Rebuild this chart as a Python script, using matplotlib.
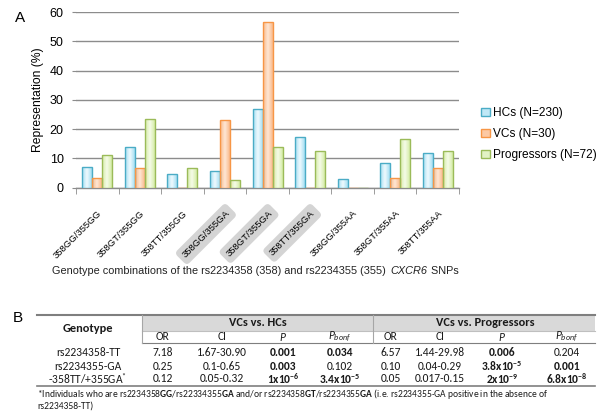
import matplotlib
matplotlib.use("Agg")
import matplotlib.pyplot as plt
import numpy as np
from matplotlib import font_manager
from matplotlib.patches import Patch, Rectangle
from matplotlib.lines import Line2D
from matplotlib.colors import LinearSegmentedColormap

# ---- data panel A ----
genotypes_x = ["358GG/355GG", "358GT/355GG", "358TT/355GG", "358GG/355GA", "358GT/355GA",
               "358TT/355GA", "358GG/355AA", "358GT/355AA", "358TT/355AA"]
highlight = [3, 4, 5]
hcs = [7.0, 13.9, 4.8, 5.7, 27.0, 17.4, 3.0, 8.3, 12.0]
vcs = [3.3, 6.7, 0.0, 23.3, 56.7, 0.0, 0.0, 3.3, 6.7]
progs = [11.1, 23.6, 6.9, 2.8, 13.9, 12.5, 0.0, 16.7, 12.5]
series_names = ["HCs (N=230)", "VCs (N=30)", "Progressors (N=72)"]

# ---- data panel B ----
tab_genotype = ["rs2234358-TT", "rs2234355-GA", r"-358TT/+355GA$^{*}$"]
or_hc = ["7.18", "0.25", "0.12"]
ci_hc = ["1.67-30.90", "0.1-0.65", "0.05-0.32"]
p_hc = ["0.001", "0.003", "1x10^{-6}"]
p_hc_bold = [True, True, True]
pb_hc = ["0.034", "0.102", "3.4x10^{-5}"]
pb_hc_bold = [True, False, True]
or_pr = ["6.57", "0.10", "0.05"]
ci_pr = ["1.44-29.98", "0.04-0.29", "0.017-0.15"]
p_pr = ["0.006", "3.8x10^{-5}", "2x10^{-9}"]
p_pr_bold = [True, True, True]
pb_pr = ["0.204", "0.001", "6.8x10^{-8}"]
pb_pr_bold = [False, True, True]

# Calibri-like font for the table if there is one
avail = {f.name for f in font_manager.fontManager.ttflist}
tfont = next(n for n in ["Carlito", "Liberation Sans Narrow", "Lato", "DejaVu Sans"] if n in avail)

plt.rcParams["font.family"] = ["Liberation Sans", "DejaVu Sans"]
plt.rcParams["mathtext.fontset"] = "custom"
plt.rcParams["mathtext.rm"] = tfont
plt.rcParams["mathtext.bf"] = tfont + ":bold"
plt.rcParams["mathtext.it"] = tfont + ":italic"

fig = plt.figure(figsize=(6.04, 4.2), dpi=100)
renderer = fig.canvas.get_renderer()

# ---------------- panel A ----------------
ax = fig.add_axes([0.126, 0.553, 0.634, 0.418])
x = np.arange(len(genotypes_x))
w = 0.235
fills = ["#c0e8f6", "#fcc9a4", "#e2f2c4"]
sides = ["#a4def2", "#f9b98b", "#d4eca6"]
centres = ["#effafe", "#fee6d4", "#f5fbe8"]
edges = ["#4bacc6", "#f79646", "#9bbb59"]
grad = np.linspace(-1, 1, 64)
grad = np.abs(grad)[None, :]
for i, vals in enumerate([hcs, vcs, progs]):
    bars = ax.bar(x + (i - 1) * w, vals, w, color="none", edgecolor=edges[i], linewidth=1, zorder=4)
    cmap = LinearSegmentedColormap.from_list("g%d" % i, [centres[i], sides[i]])
    for rect in bars:
        if rect.get_height() <= 0:
            continue
        x0 = rect.get_x()
        im = ax.imshow(grad, extent=[x0, x0 + rect.get_width(), 0, rect.get_height()],
                       aspect="auto", cmap=cmap, vmin=0, vmax=1, zorder=3, interpolation="bilinear")
        im.set_clip_path(rect)

ax.set_xlim(-0.5, len(genotypes_x) - 0.5)
ax.set_ylim(0, 60)
ax.set_yticks(range(0, 61, 10))
ax.tick_params(axis="y", labelsize=9, length=3, color="#8c8c8c", pad=6)
ax.yaxis.grid(True, color="#8c8c8c", lw=1)
ax.set_axisbelow(True)
for s in ["left", "top", "right"]:
    ax.spines[s].set_visible(False)
ax.spines["bottom"].set_color("#8c8c8c")
ax.spines["bottom"].set_linewidth(1)
ax.set_xticks(x)
ax.set_xticks(np.arange(-0.5, len(genotypes_x), 1), minor=True)
ax.tick_params(axis="x", which="major", length=0, pad=15)
ax.tick_params(axis="x", which="minor", length=4, color="#8c8c8c")
ax.set_xticklabels(genotypes_x, rotation=45, ha="right", rotation_mode="anchor", fontsize=6.8)
for i, lab in enumerate(ax.get_xticklabels()):
    if i in highlight:
        lab.set_bbox(dict(boxstyle="round,pad=0.45", fc="#d4d4d4", ec="none"))
ax.set_ylabel("Representation (%)", fontsize=8.7, labelpad=4)

handles = [Patch(facecolor=fills[i], edgecolor=edges[i]) for i in range(3)]
ax.legend(handles, series_names, loc="center left", bbox_to_anchor=(0.787, 0.681),
          bbox_transform=fig.transFigure, frameon=False, fontsize=8.6,
          handlelength=0.7, handleheight=0.7, handletextpad=0.25, labelspacing=0.75,
          borderpad=0)

# x label in three pieces so that CXCR6 can be italic
xl_parts = [("Genotype combinations of the rs2234358 (358) and rs2234355 (355) ", "normal"),
            ("CXCR6", "italic"), (" SNPs", "normal")]
xpos = 52
for txt, st in xl_parts:
    t = fig.text(xpos / 604, 1 - 271 / 420, txt, fontsize=7.8, style=st,
                 va="center", ha="left", color="#222222")
    xpos += t.get_window_extent(renderer).width
    if txt.endswith(" "):
        xpos += 2

fig.text(15 / 604, 1 - 18 / 420, "A", fontsize=11, va="center", ha="left")
fig.text(13 / 604, 1 - 318 / 420, "B", fontsize=11, va="center", ha="left")

# ---------------- panel B (table) ----------------
tb = fig.add_axes([0, 0, 1, 1], zorder=-1)
tb.set_xlim(0, 604)
tb.set_ylim(420, 0)
tb.axis("off")

tf = dict(family=[tfont, "DejaVu Sans"], fontsize=8.3, ha="center", va="center", color="#1a1a1a")
tb.add_patch(Rectangle((142, 314), 453, 17, fc="#d9d9d9", ec="none"))
tb.add_line(Line2D([37, 595], [314.5, 314.5], color="#7f7f7f", lw=1.5))
tb.add_line(Line2D([142, 595], [331, 331], color="#bfbfbf", lw=0.8))
tb.add_line(Line2D([142, 595], [343, 343], color="#7f7f7f", lw=0.8))
tb.add_line(Line2D([37, 595], [385.5, 385.5], color="#7f7f7f", lw=1.2))
for xv in [142, 373]:
    tb.add_line(Line2D([xv, xv], [314.5, 343], color="#a6a6a6", lw=0.8))

tb.text(88, 328, "Genotype", fontweight="bold", **dict(tf, fontsize=8.9))
tb.text(258, 323, "VCs vs. HCs", fontweight="bold", **dict(tf, fontsize=8.9))
tb.text(485, 323, "VCs vs. Progressors", fontweight="bold", **dict(tf, fontsize=8.9))

col_x = [163, 222, 283, 340, 391, 440, 502, 567]
sub = ["OR", "CI", r"$\mathit{P}$", r"$\mathit{P_{bonf}}$"] * 2
for cx, s in zip(col_x, sub):
    tb.text(cx, 337, s, **tf)


def cell(val, bold):
    if "^" in val:
        return r"$\mathbf{%s}$" % val if bold else r"$\mathrm{%s}$" % val
    return val


row_y = [353, 366, 379]
for r in range(3):
    tb.text(88, row_y[r], tab_genotype[r], **tf)
    cols = [(or_hc[r], False), (ci_hc[r], False), (p_hc[r], p_hc_bold[r]), (pb_hc[r], pb_hc_bold[r]),
            (or_pr[r], False), (ci_pr[r], False), (p_pr[r], p_pr_bold[r]), (pb_pr[r], pb_pr_bold[r])]
    for cx, (v, b) in zip(col_x, cols):
        tb.text(cx, row_y[r], cell(v, b), fontweight="bold" if b else "normal", **tf)

# footnote, shrunk to end near where the reference one ends
foot = dict(tf, ha="left")
fn = tb.text(37, 394, r"*Individuals who are rs2234358$\mathbf{GG}$/rs22334355$\mathbf{GA}$ and/or "
             r"rs2234358$\mathbf{GT}$/rs2234355$\mathbf{GA}$ (i.e. rs2234355-GA positive in the absence of",
             **foot)
fw = fn.get_window_extent(renderer).width
fs = min(tf["fontsize"], tf["fontsize"] * 510 / fw)
fn.set_fontsize(fs)
tb.text(37, 406, "rs2234358-TT)", **dict(foot, fontsize=fs))

fig.savefig("out.png", dpi=100)
